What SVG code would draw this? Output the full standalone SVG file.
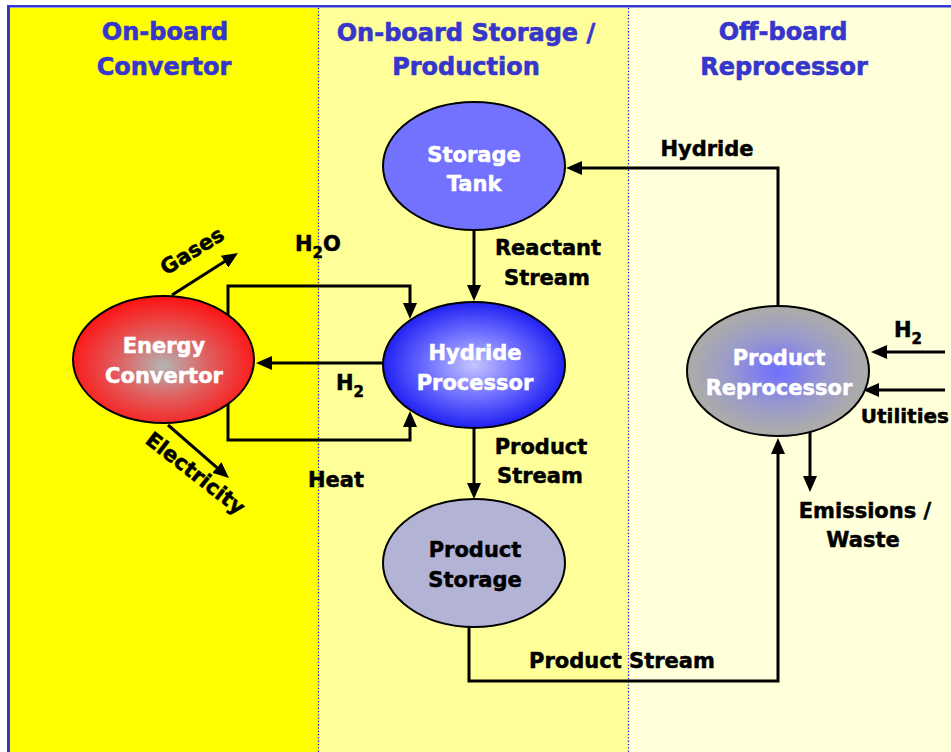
<svg xmlns="http://www.w3.org/2000/svg" width="951" height="752" viewBox="0 0 951 752">
  <style>
    .title { font-family: "DejaVu Sans", "Liberation Sans", sans-serif; font-weight: bold; font-size: 24px; fill: #3636cc; stroke: #3636cc; stroke-width: 0.6; text-anchor: middle; }
    .lbl { font-family: "DejaVu Sans", "Liberation Sans", sans-serif; font-weight: bold; font-size: 21px; fill: #000; stroke: #000; stroke-width: 0.5; }
    .mid { text-anchor: middle; }
    .end { text-anchor: end; }
    .wt { fill: #fff; stroke: #fff; }
    .node { stroke: #000; stroke-width: 2; }
    .conn { fill: none; stroke: #000; stroke-width: 3; marker-end: url(#arrow); }
    .sep { stroke: #1a1aff; stroke-width: 1.3; stroke-dasharray: 1.3 2; }
    .sub { font-size: 15px; }
  </style>
  <defs>
    <marker id="arrow" viewBox="0 0 16 14" refX="2" refY="7" markerWidth="16" markerHeight="14" markerUnits="userSpaceOnUse" orient="auto">
      <path d="M0,0 L16,7 L0,14 z" fill="#000"/>
    </marker>
    <radialGradient id="gRed" cx="0.5" cy="0.55" r="0.55">
      <stop offset="0" stop-color="#b4b4b4"/>
      <stop offset="0.45" stop-color="#e06060"/>
      <stop offset="1" stop-color="#ff1010"/>
    </radialGradient>
    <radialGradient id="gBlue" cx="0.5" cy="0.5" r="0.55">
      <stop offset="0" stop-color="#c4c4ff"/>
      <stop offset="0.5" stop-color="#6a6aff"/>
      <stop offset="1" stop-color="#1010f0"/>
    </radialGradient>
    <radialGradient id="gGrey" cx="0.5" cy="0.5" r="0.55">
      <stop offset="0" stop-color="#6e6eff"/>
      <stop offset="0.5" stop-color="#9a9acc"/>
      <stop offset="0.85" stop-color="#ababab"/>
      <stop offset="1" stop-color="#aaaaaa"/>
    </radialGradient>
  </defs>

  <!-- background bands -->
  <rect x="0" y="0" width="951" height="752" fill="#ffffff"/>
  <rect x="10" y="8" width="309" height="744" fill="#ffff00"/>
  <rect x="319" y="8" width="310" height="744" fill="#ffff99"/>
  <rect x="629" y="8" width="322" height="744" fill="#ffffd9"/>
  <line x1="7" y1="6.2" x2="951" y2="6.2" stroke="#3636cc" stroke-width="2.5"/>
  <line x1="8.5" y1="5" x2="8.5" y2="752" stroke="#3636cc" stroke-width="3"/>
  <line class="sep" x1="318.5" y1="8" x2="318.5" y2="752"/>
  <line class="sep" x1="628.5" y1="8" x2="628.5" y2="752"/>

  <!-- column titles -->
  <g id="titles">
    <text class="title" x="165" y="40">On-board</text>
    <text class="title" x="164" y="75">Convertor</text>
    <text class="title" x="466" y="41">On-board Storage /</text>
    <text class="title" x="466" y="75">Production</text>
    <text class="title" x="783" y="40">Off-board</text>
    <text class="title" x="784" y="75">Reprocessor</text>
  </g>

  <!-- connectors -->
  <g id="connectors">
    <path class="conn" d="M474,230 V287"/>
    <path class="conn" d="M474,429 V485"/>
    <path class="conn" d="M383,363 H270"/>
    <path class="conn" d="M228,315 V286 H410 V305"/>
    <path class="conn" d="M228,404 V440 H410 V425"/>
    <path class="conn" d="M172,295 L226.2,260.5"/>
    <path class="conn" d="M168,425 L218.4,468.8"/>
    <path class="conn" d="M778,306 V168 H580"/>
    <path class="conn" d="M469,627 V681 H778 V452"/>
    <path class="conn" d="M810,432 V478"/>
    <path class="conn" d="M945,352 H885"/>
    <path class="conn" d="M945,390 H877"/>

    <text class="lbl mid" x="707" y="156">Hydride</text>
    <text class="lbl mid" x="548" y="255">Reactant</text>
    <text class="lbl mid" x="547" y="285">Stream</text>
    <text class="lbl mid" x="541" y="454">Product</text>
    <text class="lbl mid" x="540" y="483">Stream</text>
    <text class="lbl mid" x="622" y="668">Product Stream</text>
    <text class="lbl" x="295" y="251">H<tspan class="sub" dy="7">2</tspan><tspan dy="-7">O</tspan></text>
    <text class="lbl" x="336" y="390">H<tspan class="sub" dy="7">2</tspan></text>
    <text class="lbl" x="308" y="487">Heat</text>
    <text class="lbl" x="894" y="337">H<tspan class="sub" dy="7">2</tspan></text>
    <text class="lbl end" x="949" y="423" style="font-size:20px">Utilities</text>
    <text class="lbl mid" x="865" y="518">Emissions /</text>
    <text class="lbl mid" x="863" y="547">Waste</text>
    <text class="lbl mid" transform="translate(196,257) rotate(-32)">Gases</text>
    <text class="lbl mid" transform="translate(191,479) rotate(38)">Electricity</text>
  </g>

  <!-- nodes -->
  <g id="storage-tank">
    <ellipse class="node" cx="474" cy="166" rx="91" ry="64" fill="#7272ff"/>
    <text class="lbl mid wt" x="474" y="162">Storage</text>
    <text class="lbl mid wt" x="474" y="191">Tank</text>
  </g>
  <g id="hydride-processor">
    <ellipse class="node" cx="474" cy="365" rx="91" ry="63" fill="url(#gBlue)"/>
    <text class="lbl mid wt" x="475" y="360">Hydride</text>
    <text class="lbl mid wt" x="475" y="390">Processor</text>
  </g>
  <g id="product-storage">
    <ellipse class="node" cx="474" cy="563" rx="91" ry="64" fill="#b3b3d6"/>
    <text class="lbl mid" x="475" y="557">Product</text>
    <text class="lbl mid" x="475" y="587">Storage</text>
  </g>
  <g id="energy-convertor">
    <ellipse class="node" cx="163.5" cy="359.5" rx="90.5" ry="63.5" fill="url(#gRed)"/>
    <text class="lbl mid wt" x="164" y="353">Energy</text>
    <text class="lbl mid wt" x="164" y="383">Convertor</text>
  </g>
  <g id="product-reprocessor">
    <ellipse class="node" cx="778" cy="371" rx="91" ry="65" fill="url(#gGrey)"/>
    <text class="lbl mid wt" x="779" y="365">Product</text>
    <text class="lbl mid wt" x="779" y="395">Reprocessor</text>
  </g>
</svg>
